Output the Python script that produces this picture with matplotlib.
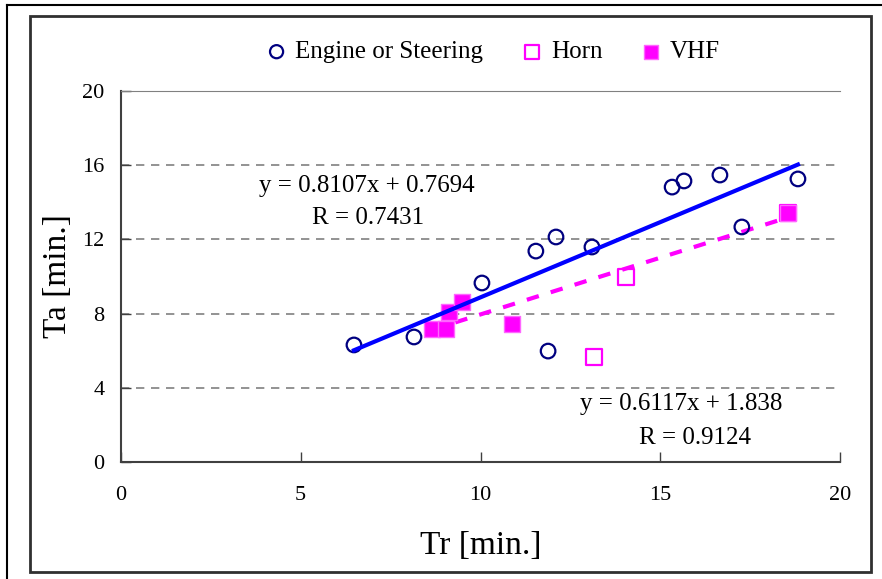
import numpy as np
import matplotlib.pyplot as plt
from matplotlib.patches import Rectangle
from matplotlib.lines import Line2D

plt.rcParams['font.family'] = ['Liberation Serif', 'DejaVu Serif']

engine_tr = [6.48, 8.15, 10.04, 11.54, 12.10, 11.88, 13.10, 15.33, 15.66, 16.66, 17.27, 18.83]
engine_ta = [6.31, 6.74, 9.65, 11.37, 12.13, 5.98, 11.59, 14.82, 15.15, 15.47, 12.67, 15.26]
horn_tr = [14.05, 13.16, 18.55]
horn_ta = [9.97, 5.66, 13.42]
vhf_tr = [8.65, 9.04, 9.12, 9.49, 10.88, 18.55]
vhf_ta = [7.17, 7.17, 8.09, 8.63, 7.44, 13.42]

fit_engine = (0.8107, 0.7694)
fit_horn = (0.6117, 1.838)
fit_horn_range = (9.3, 18.55)

fig = plt.figure(figsize=(8.82, 5.79), dpi=100)
W, H = 882, 579

# outer frames
fig.add_artist(Line2D([7 / W, 7 / W], [0, 1 - 5 / H], color='black', lw=1.5))
fig.add_artist(Line2D([7 / W, 1], [1 - 5 / H, 1 - 5 / H], color='black', lw=1.5))
fig.add_artist(Rectangle((30 / W, 1 - 572 / H), 841 / W, 556 / H, fill=False,
                         edgecolor='#303030', lw=2.0))

ax = fig.add_axes([121 / W, 1 - 462 / H, (840 - 121) / W, (462 - 91) / H])

for y in [4, 8, 12, 16]:
    ax.axhline(y, color='#808080', ls=(0, (5, 4)), lw=1.2, zorder=0)

ax.scatter(engine_tr, engine_ta, s=110, facecolors='none', edgecolors='#000080',
           linewidths=1.6, zorder=3, label='Engine or Steering')
ax.scatter(horn_tr, horn_ta, s=130, marker='s', facecolors='none', edgecolors='#ff00ff',
           linewidths=1.6, zorder=3, label='Horn')
ax.scatter(vhf_tr, vhf_ta, s=130, marker='s', facecolors='#ff00ff', edgecolors='#ff66ff',
           linewidths=1.0, zorder=3, label='VHF')

xe = np.array([min(engine_tr), max(engine_tr)])
ax.plot(xe, fit_engine[0] * xe + fit_engine[1], color='#0000ff', lw=3, zorder=4)
xh = np.array(fit_horn_range)
ax.plot(xh, fit_horn[0] * xh + fit_horn[1], color='#ff00ff', lw=3,
        ls=(0, (3, 3)), zorder=2)

ax.text(6.84, 14.88, 'y = 0.8107x + 0.7694', fontsize=18, ha='center', va='center')
ax.text(6.86, 13.15, 'R = 0.7431', fontsize=18, ha='center', va='center')
ax.text(15.58, 3.13, 'y = 0.6117x + 1.838', fontsize=18, ha='center', va='center')
ax.text(15.97, 1.29, 'R = 0.9124', fontsize=18, ha='center', va='center')

ax.set_xlim(0, 20)
ax.set_ylim(0, 20)
ax.set_xticks([0, 5, 10, 15, 20])
ax.set_yticks([0, 4, 8, 12, 16, 20])
ax.tick_params(labelsize=16, direction='in', length=7, width=1, color='#404040')
ax.tick_params(axis='x', pad=17)
ax.tick_params(axis='y', pad=12)
ax.spines['right'].set_visible(False)
ax.spines['top'].set_color('#808080')
for s in ['left', 'bottom']:
    ax.spines[s].set_color('#404040')
    ax.spines[s].set_linewidth(1.5)
ax.set_xlabel('Tr [min.]', fontsize=24, va='center')
ax.set_ylabel('Ta [min.]', fontsize=24, va='center')
ax.xaxis.set_label_coords(0.5, (462 - 546) / 371)
ax.yaxis.set_label_coords((58 - 121) / 719, 0.5)

ax.legend(loc='center', bbox_to_anchor=((492 - 121) / 719, 1 + 39 / 371), ncol=3,
          frameon=False, fontsize=18, handlelength=1.0, handletextpad=0.25,
          columnspacing=1.45, markerscale=0.9)

fig.savefig('out.png', dpi=100)
